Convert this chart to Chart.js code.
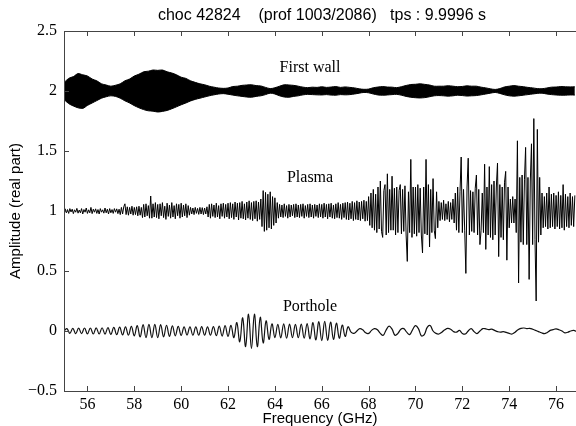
<!DOCTYPE html>
<html>
<head>
<meta charset="utf-8">
<script src="https://cdn.jsdelivr.net/npm/chart.js@4/dist/chart.umd.min.js"></script>
<style>
  html, body { margin: 0; padding: 0; background: #fff; overflow: hidden; }
  #wrap { width: 576px; height: 426px; }
</style>
</head>
<body>
<div id="wrap"><canvas id="chart" width="576" height="426"></canvas></div>
<script>
// sampling grids (GHz)
const wallStart = 55, wallStep = 0.2;
const plasmaStart = 55, plasmaStep = 0.05;
const portStart = 55, portStep = 0.125;

// first wall: the trace is a solid band, kept as its upper / lower edge
const wallUpper = [
  2.07, 2.105, 2.12, 2.145, 2.135, 2.125, 2.10, 2.085, 2.06, 2.05,
  2.04, 2.048, 2.06, 2.085, 2.10, 2.125, 2.14, 2.16, 2.165, 2.175,
  2.172, 2.175, 2.16, 2.15, 2.135, 2.115, 2.105, 2.085, 2.072, 2.06,
  2.052, 2.04, 2.032, 2.025, 2.022, 2.025, 2.037, 2.04, 2.047, 2.05,
  2.052, 2.045, 2.042, 2.03, 2.02, 2.027, 2.04, 2.052, 2.05, 2.047,
  2.04, 2.032, 2.028, 2.032, 2.03, 2.035, 2.03, 2.033, 2.037, 2.03,
  2.034, 2.03, 2.026, 2.018, 2.014, 2.016, 2.027, 2.033, 2.037, 2.033,
  2.032, 2.028, 2.036, 2.046, 2.054, 2.056, 2.06, 2.055, 2.05, 2.04,
  2.04, 2.04, 2.044, 2.04, 2.036, 2.038, 2.043, 2.04, 2.04, 2.032,
  2.026, 2.018, 2.013, 2.02, 2.034, 2.04, 2.045, 2.04, 2.036, 2.03,
  2.026, 2.02, 2.019, 2.025, 2.032, 2.033, 2.037, 2.035, 2.034, 2.035
];
const wallLower = [
  1.93, 1.895, 1.875, 1.86, 1.855, 1.88, 1.9, 1.92, 1.94, 1.952,
  1.96, 1.955, 1.94, 1.918, 1.9, 1.878, 1.86, 1.845, 1.835, 1.832,
  1.825, 1.83, 1.838, 1.852, 1.868, 1.885, 1.9, 1.917, 1.93, 1.94,
  1.95, 1.96, 1.968, 1.975, 1.978, 1.973, 1.966, 1.96, 1.955, 1.95,
  1.948, 1.955, 1.96, 1.97, 1.982, 1.975, 1.96, 1.95, 1.948, 1.955,
  1.96, 1.968, 1.972, 1.97, 1.968, 1.967, 1.97, 1.966, 1.965, 1.97,
  1.968, 1.97, 1.975, 1.982, 1.988, 1.985, 1.975, 1.967, 1.965, 1.967,
  1.97, 1.972, 1.965, 1.955, 1.948, 1.944, 1.942, 1.945, 1.952, 1.96,
  1.962, 1.96, 1.957, 1.96, 1.965, 1.962, 1.958, 1.96, 1.962, 1.968,
  1.975, 1.982, 1.988, 1.98, 1.968, 1.96, 1.957, 1.96, 1.965, 1.97,
  1.975, 1.98, 1.982, 1.975, 1.97, 1.967, 1.965, 1.965, 1.967, 1.966
];

// plasma: one row per GHz (55 ... 76.8)
const plasma = [
  1.0, 1.018, 0.985, 1.012, 0.98, 1.02, 0.992, 1.015, 0.978, 1.01, 0.99, 1.022, 0.982, 1.008, 0.985, 1.02, 0.975, 1.012, 0.99, 1.025,
  0.98, 1.01, 0.985, 1.03, 0.978, 1.015, 0.99, 1.018, 0.98, 1.012, 0.975, 1.02, 0.99, 1.01, 0.982, 1.025, 0.985, 1.015, 0.975, 1.02,
  0.985, 1.012, 0.98, 1.02, 0.99, 1.018, 0.978, 1.015, 0.97, 1.03, 0.975, 1.035, 1.06, 0.97, 1.035, 0.965, 1.03, 0.975, 1.04, 0.965,
  1.03, 0.97, 1.035, 0.96, 1.04, 0.965, 1.03, 0.945, 1.055, 0.95, 1.06, 0.96, 1.045, 0.94, 1.125, 0.94, 1.06, 0.95, 1.07, 0.945,
  1.055, 0.935, 1.06, 0.96, 1.07, 0.945, 1.04, 0.93, 1.065, 0.955, 1.05, 0.94, 1.07, 0.95, 1.045, 0.935, 1.06, 0.96, 1.055, 0.94,
  1.065, 0.95, 1.05, 0.96, 1.06, 0.945, 1.045, 0.965, 1.03, 0.975, 1.025, 0.97, 1.03, 0.98, 1.022, 0.972, 1.03, 0.975, 1.028, 0.97,
  1.025, 0.975, 1.035, 0.95, 1.055, 0.94, 1.06, 0.955, 1.05, 0.945, 1.065, 0.95, 1.045, 0.935, 1.06, 0.955, 1.065, 0.94, 1.055, 0.95,
  1.065, 0.935, 1.07, 0.945, 1.06, 0.93, 1.075, 0.95, 1.065, 0.925, 1.07, 0.94, 1.08, 0.935, 1.06, 0.925, 1.075, 0.94, 1.085, 0.93,
  1.07, 0.92, 1.08, 0.935, 1.085, 0.915, 1.075, 0.93, 1.1, 0.87, 1.17, 0.83, 1.155, 0.84, 1.14, 0.86, 1.16, 0.85, 1.12, 0.88,
  1.11, 0.9, 1.07, 0.94, 1.055, 0.95, 1.05, 0.945, 1.06, 0.955, 1.045, 0.94, 1.055, 0.95, 1.05, 0.96, 1.055, 0.945, 1.06, 0.95,
  1.05, 0.945, 1.055, 0.955, 1.06, 0.94, 1.045, 0.955, 1.055, 0.945, 1.06, 0.95, 1.05, 0.94, 1.055, 0.955, 1.05, 0.945, 1.06, 0.95,
  1.055, 0.94, 1.065, 0.95, 1.055, 0.935, 1.06, 0.95, 1.065, 0.94, 1.05, 0.935, 1.06, 0.945, 1.07, 0.94, 1.055, 0.93, 1.065, 0.945,
  1.07, 0.93, 1.075, 0.925, 1.065, 0.935, 1.08, 0.92, 1.07, 0.93, 1.085, 0.925, 1.075, 0.92, 1.08, 0.935, 1.09, 0.915, 1.08, 0.92,
  1.12, 0.88, 1.15, 0.86, 1.18, 0.84, 1.14, 0.82, 1.2, 0.85, 1.25, 0.83, 0.78, 1.17, 1.22, 0.8, 1.31, 0.82, 1.18, 0.84,
  1.29, 0.84, 1.19, 0.8, 1.2, 0.82, 1.17, 1.22, 0.81, 1.18, 0.83, 1.21, 0.8, 0.58, 1.16, 0.82, 1.43, 0.78, 1.2, 0.81,
  1.2, 0.79, 1.22, 0.82, 1.19, 0.8, 0.65, 1.2, 0.81, 1.43, 0.8, 1.22, 0.7, 1.18, 0.82, 1.27, 0.84, 0.77, 1.16, 0.86,
  1.08, 0.92, 1.07, 0.93, 1.09, 0.92, 1.06, 0.93, 1.08, 0.91, 1.07, 0.93, 1.1, 0.9, 1.15, 0.84, 1.2, 0.82, 1.16, 1.45,
  0.82, 1.18, 0.84, 0.48, 1.2, 1.44, 0.8, 1.17, 0.83, 1.16, 0.82, 1.19, 1.3, 0.8, 1.18, 0.72, 0.84, 1.15, 0.82, 1.39,
  0.68, 1.2, 0.8, 1.37, 0.78, 1.22, 0.76, 1.25, 0.8, 1.2, 1.4, 0.62, 1.22, 0.78, 1.2, 0.76, 1.24, 1.33, 0.59, 1.2,
  0.86, 1.1, 0.9, 1.12, 0.9, 1.1, 0.82, 1.585, 0.4, 1.28, 0.74, 1.3, 0.72, 1.26, 1.53, 0.72, 1.28, 0.43, 1.25, 1.56,
  0.72, 1.77, 0.76, 0.25, 1.68, 0.74, 1.28, 0.8, 1.15, 0.86, 1.12, 0.87, 1.15, 0.85, 1.2, 0.86, 1.14, 0.87, 1.15, 0.85,
  1.13, 0.87, 1.16, 0.85, 1.13, 0.86, 1.22, 0.84, 1.14, 0.87, 1.12, 0.86, 1.15, 0.88, 1.12, 0.87, 1.13
];

const porthole = [
  0, 0.02, -0.02, 0.022, -0.022, 0.024, -0.022, 0.025,
  -0.024, 0.025, -0.025, 0.026, -0.025, 0.027, -0.026, 0.028,
  -0.028, 0.03, -0.03, 0.032, -0.032, 0.035, -0.035, 0.038,
  -0.04, 0.045, -0.05, 0.053, -0.055, 0.056, -0.055, 0.055,
  -0.055, 0.053, -0.05, 0.048, -0.045, 0.042, -0.04, 0.038,
  -0.036, 0.035, -0.034, 0.035, -0.035, 0.034, -0.035, 0.036,
  -0.035, 0.034, -0.035, 0.036, -0.038, 0.04, -0.042, 0.045,
  -0.045, 0.048, -0.055, 0.07, -0.09, 0.11, -0.13, 0.14,
  -0.145, 0.14, -0.13, 0.115, -0.1, 0.085, -0.07, 0.06,
  -0.055, 0.055, -0.058, 0.06, -0.06, 0.058, -0.055, 0.055,
  -0.056, 0.058, -0.06, 0.062, -0.065, 0.07, -0.075, 0.078,
  -0.08, 0.08, -0.078, 0.075, -0.07, 0.065, -0.06, 0.05,
  -0.045, 0.035, -0.01, -0.02, 0.0, 0.02, 0.01, -0.015,
  -0.02, 0.005, 0.02, 0.01, -0.02, -0.035, 0.01, 0.04,
  0.015, -0.035, -0.02, 0.015, 0.02, -0.01, -0.03, 0.01,
  0.045, 0.02, -0.04, -0.03, 0.03, 0.045, 0.0, -0.02,
  -0.025, -0.01, 0.01, 0.022, 0.015, -0.005, -0.01, 0.005,
  -0.02, -0.025, 0.0, 0.02, -0.005, -0.022, 0.0, 0.02,
  0.018, 0.012, 0.015, 0.005, -0.005, -0.01, -0.005, -0.012,
  -0.02, -0.025, -0.01, 0.01, 0.022, 0.025, 0.02, 0.022,
  0.015, 0.005, -0.005, -0.015, -0.022, -0.012, 0.005, 0.012,
  0.018, 0.01, 0.0, -0.015, -0.01, 0.0, 0.005, -0.005
];

const xTicks = [56, 58, 60, 62, 64, 66, 68, 70, 72, 74, 76];
const yTicks = [-0.5, 0, 0.5, 1, 1.5, 2, 2.5];
const yTickLabels = ["\u22120.5", "0", "0.5", "1", "1.5", "2", "2.5"];

const titleText = "choc 42824    (prof 1003/2086)   tps : 9.9996 s";
const notes = [
  { text: "First wall", f: 65.5, v: 2.19 },
  { text: "Plasma", f: 65.5, v: 1.275 },
  { text: "Porthole", f: 65.5, v: 0.205 }
];

const toPoints = (arr, start, step) => arr.map((y, i) => ({ x: start + i * step, y }));

const serif = "'Liberation Serif', 'Times New Roman', serif";
const sans = "'Liberation Sans', Arial, sans-serif";

// matlab-like box: inward ticks, top rule, texts
const frame = {
  id: "frame",
  afterDraw(chart) {
    const { ctx, chartArea: a, scales: { x, y } } = chart;
    ctx.save();
    ctx.strokeStyle = "#444";
    ctx.lineWidth = 1;
    ctx.beginPath();
    ctx.moveTo(a.right + 5, a.top + 0.5);
    ctx.lineTo(a.left + 0.5, a.top + 0.5);
    ctx.lineTo(a.left + 0.5, a.bottom + 0.5);
    ctx.lineTo(a.right + 5, a.bottom + 0.5);
    xTicks.forEach(v => {
      const px = Math.round(x.getPixelForValue(v)) + 0.5;
      ctx.moveTo(px, a.bottom); ctx.lineTo(px, a.bottom - 5);
      ctx.moveTo(px, a.top); ctx.lineTo(px, a.top + 5);
    });
    yTicks.forEach(v => {
      const py = Math.round(y.getPixelForValue(v)) + 0.5;
      ctx.moveTo(a.left, py); ctx.lineTo(a.left + 5, py);
    });
    ctx.stroke();

    ctx.fillStyle = "#000";
    ctx.textAlign = "center";
    ctx.textBaseline = "middle";
    ctx.font = "16px " + sans;
    ctx.fillText(titleText, 322, 16);
    ctx.font = "16px " + serif;
    notes.forEach(n => ctx.fillText(n.text, x.getPixelForValue(n.f), y.getPixelForValue(n.v)));
    ctx.restore();
  }
};

new Chart(document.getElementById("chart").getContext("2d"), {
  type: "line",
  data: {
    datasets: [
      {
        data: toPoints(wallUpper, wallStart, wallStep),
        borderColor: "#000", backgroundColor: "#000", borderWidth: 1,
        fill: "+1", tension: 0.3, pointRadius: 0
      },
      {
        data: toPoints(wallLower, wallStart, wallStep),
        borderColor: "#000", borderWidth: 1,
        fill: false, tension: 0.3, pointRadius: 0
      },
      {
        data: toPoints(plasma, plasmaStart, plasmaStep),
        borderColor: "#000", borderWidth: 1,
        fill: false, tension: 0, pointRadius: 0
      },
      {
        data: toPoints(porthole, portStart, portStep),
        borderColor: "#111", borderWidth: 1.2,
        fill: false, tension: 0.4, pointRadius: 0
      }
    ]
  },
  options: {
    responsive: false,
    animation: false,
    devicePixelRatio: 1,
    layout: { padding: { top: 31, right: 0, bottom: 0, left: 0 } },
    plugins: { legend: { display: false }, tooltip: { enabled: false }, title: { display: false } },
    scales: {
      x: {
        type: "linear",
        min: 55,
        max: 76.85,
        afterBuildTicks: s => { s.ticks = xTicks.map(v => ({ value: v })); },
        afterFit: s => { s.height = 35; },
        grid: { display: false, drawTicks: false },
        border: { display: false },
        ticks: { font: { family: serif, size: 16 }, color: "#000", padding: 4, maxRotation: 0, autoSkip: false, callback: v => String(v) },
        title: { display: true, text: "Frequency (GHz)", font: { family: sans, size: 15 }, color: "#000", padding: { top: 0, bottom: -2 } }
      },
      y: {
        min: -0.5,
        max: 2.5,
        afterBuildTicks: s => { s.ticks = yTicks.map(v => ({ value: v })); },
        afterFit: s => { s.width = 64; },
        grid: { display: false, drawTicks: false },
        border: { display: false },
        ticks: { font: { family: serif, size: 16 }, color: "#000", padding: 7, callback: v => yTickLabels[yTicks.indexOf(v)] },
        title: { display: true, text: "Amplitude (real part)", font: { family: sans, size: 15 }, color: "#000", padding: { top: 7, bottom: 0 } }
      }
    }
  },
  plugins: [frame]
});
</script>
</body>
</html>
